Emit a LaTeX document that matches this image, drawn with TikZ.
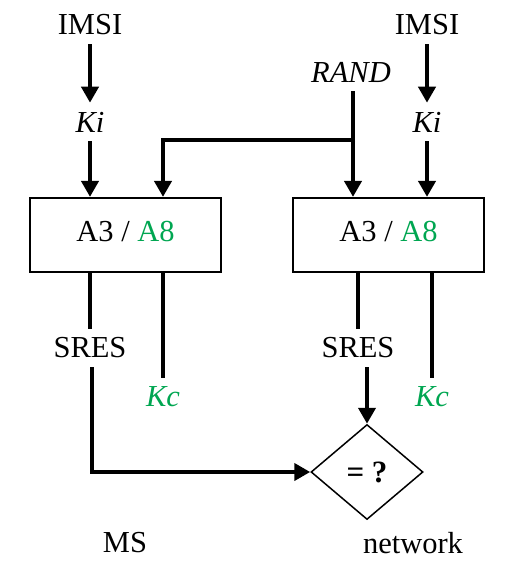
\documentclass[tikz,border=0pt]{standalone}
\usepackage{fontspec}
\setmainfont{Liberation Serif}
\usetikzlibrary{arrows.meta,shapes.geometric}
\definecolor{agreen}{RGB}{0,166,81}
\tikzset{
  lbl/.style={inner sep=9pt, font=\fontsize{30.5}{36}\selectfont},
  algbox/.style={draw, line width=2.2pt, minimum width=191pt, minimum height=74pt, inner sep=0pt, font=\fontsize{30.5}{36}\selectfont},
  wire/.style={line width=4pt},
  arr/.style={line width=4pt, -{Triangle[length=16pt,width=17pt]}},
  cmp/.style={draw, diamond, line width=1.5pt, minimum width=112pt, minimum height=95pt, inner sep=0pt, aspect=1.18, font=\fontsize{31}{36}\selectfont\bfseries}
}
\begin{document}
\begin{tikzpicture}[x=1pt,y=-1pt]
\useasboundingbox (0,0) rectangle (508,564);
% labels
\node[lbl] (imsiL) at (90,25) {IMSI};
\node[lbl] (imsiR) at (427,25) {IMSI};
\node[lbl] (kiL) at (90,122) {\textit{Ki}};
\node[lbl] (kiR) at (427,122) {\textit{Ki}};
\node[lbl] (rand) at (351,72) {\textit{RAND}};
\coordinate (rj) at (353,140);
% boxes
\node[algbox] (boxL) at (125.5,235) {\raisebox{7pt}{A3 / \textcolor{agreen}{A8}}};
\node[algbox] (boxR) at (388.5,235) {\raisebox{7pt}{A3 / \textcolor{agreen}{A8}}};
% outputs
\node[lbl] (sresL) at (90,348) {SRES};
\node[lbl] (kcL) at (163,397) {\textcolor{agreen}{\textit{Kc}}};
\node[lbl] (sresR) at (358,348) {SRES};
\node[lbl] (kcR) at (432,397) {\textcolor{agreen}{\textit{Kc}}};
\node[cmp] (eq) at (367,472) {= ?};
\node[lbl] (ms) at (125,543) {MS};
\node[lbl] (net) at (413,543) {network};
% connectors
\draw[arr] (imsiL.south) -- (kiL.north);
\draw[arr] (imsiR.south) -- (kiR.north);
\draw[arr] (kiL.south) -- (kiL.south |- boxL.north);
\draw[arr] (kiR.south) -- (kiR.south |- boxR.north);
\draw[arr] (rand.south -| rj) -- (rj |- boxR.north);
\draw[arr] ([xshift=2pt]rj) -| (kcL |- boxL.north);
\draw[wire] (boxL.south -| sresL) -- (sresL.north);
\draw[wire] (boxL.south -| kcL) -- (kcL.north);
\draw[wire] (boxR.south -| sresR) -- (sresR.north);
\draw[wire] (boxR.south -| kcR) -- (kcR.north);
\draw[arr] ([xshift=2pt]sresL.south) |- (eq.west);
\draw[arr] (sresR.south -| eq.north) -- (eq.north);
\end{tikzpicture}
\end{document}
